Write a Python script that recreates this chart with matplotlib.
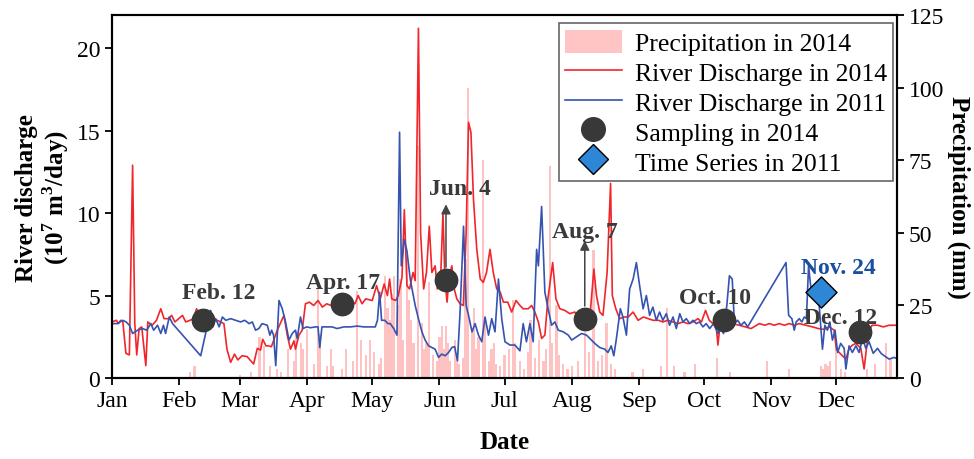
import matplotlib
matplotlib.use('Agg')
import matplotlib.pyplot as plt
from matplotlib.lines import Line2D
from matplotlib.patches import Patch

plt.rcParams['font.family'] = ['Liberation Serif', 'DejaVu Serif']
plt.rcParams['mathtext.fontset'] = 'custom'
plt.rcParams['mathtext.rm'] = 'Liberation Serif'
plt.rcParams['mathtext.bf'] = 'Liberation Serif:bold'

#######################################
# Data (day of year, Jan 1 = 0)
#######################################
# River discharge 2014 (10^7 m3/day)
q14_day = [0, 2, 3, 4, 5, 6.4, 8, 9.5, 10.5, 11.4, 12.5, 13.7, 15.6, 16.5, 18.5, 20.5, 22.5, 24, 26,
           27.5, 29, 32.5, 34, 36, 37.5, 39, 40.5, 42, 45.5, 48.5, 51.6, 53, 54.7, 56.5, 58, 60, 62.3,
           65.3, 67, 68.5, 69.5, 71, 72.2, 73.5, 76.2, 79.3, 80.8, 82.3, 83.9, 84.6, 86.2, 87.7, 89.2,
           91, 93, 95, 97, 99, 101, 103, 105, 108, 110, 112, 113.5, 115.3, 117, 120, 122, 123.7, 125.5,
           127, 128, 129, 130.8, 132, 133.7, 134.8, 136, 137.2, 138.8, 139.8, 141.3, 142.3, 143.7, 145,
           146.3, 147.5, 149, 150, 151.5, 152.6, 153.5, 154.5, 155.5, 156.7, 157.8, 159, 160.5, 162,
           163.3, 164.4, 165.5, 166.7, 168.2, 169.8, 171.2, 172.7, 174.3, 175.8, 177.4, 179, 180.5,
           182.5, 184.3, 186.3, 188.1, 189.6, 191.9, 193.5, 195, 196.6, 198.1, 199.6, 201, 203.2,
           204.7, 206.5, 208.8, 211.1, 213.4, 215, 217, 219, 220.3, 222.2, 223.4, 224.9, 226.4, 228.3,
           229.3, 229.9, 230.7, 232.3, 234.1, 236, 238, 240.3, 242.6, 245, 247.2, 249.5, 252, 254,
           256.3, 258.7, 261, 263.3, 265.6, 267.9, 270.2, 271.8, 273.7, 275.4, 277.1, 278.5, 279.4,
           280.5, 283.2, 286, 289.3, 292, 294.7, 296, 298.5, 301, 303.1, 305.4, 307.7, 310, 312.3,
           314.6, 316.9, 320, 323, 325.7, 328.4, 330.7, 333, 334, 335.3, 336.8, 338.4, 339.9, 341.5,
           343, 345.3, 346.8, 347.9, 349.1, 350.5, 353, 355.7, 358.3, 361.4]
q14 = [3.4, 3.5, 3.3, 3.5, 3.4, 1.5, 1.4, 12.9, 3.3, 1.4, 3.0, 3.1, 0.75, 3.4, 3.2, 3.5, 4.2, 3.6, 3.6,
       3.8, 3.4, 3.8, 3.4, 3.5, 3.6, 4.2, 3.7, 3.6, 3.6, 3.5, 3.3, 1.75, 0.95, 1.45, 1.1, 1.35, 1.3,
       0.85, 1.8, 1.7, 2.35, 1.95, 1.95, 1.9, 2.9, 3.8, 2.6, 1.75, 2.25, 1.75, 2.6, 2.9, 4.5,
       4.6, 4.4, 4.7, 4.3, 4.5, 4.4, 4.6, 4.5, 4.6, 4.7, 4.5, 5.0, 4.5, 4.8, 4.7, 5.6, 4.8, 5.7,
       5.0, 6.0, 4.8, 4.7, 5.0, 6.1, 10.2, 5.6, 5.4, 6.4, 5.9, 21.2, 8.8, 5.4, 6.4,
       9.2, 6.4, 6.8, 5.4, 5.9, 10.0, 6.0, 4.6, 6.2, 6.8, 5.4, 4.8, 4.5, 4.4,
       8.8, 15.5, 14.9, 10.8, 7.8, 6.0, 5.8, 6.4, 7.8, 6.4, 5.4, 5.2, 4.6,
       4.6, 4.0, 4.7, 4.4, 4.2, 4.2, 4.4, 4.0, 3.4, 2.4, 2.6, 4.8, 7.0,
       4.8, 4.2, 4.1, 3.9, 4.0, 3.7, 3.6, 3.5, 3.6, 6.6, 5.0, 4.0, 3.8, 6.4,
       9.8, 11.8, 5.0, 4.2, 3.6, 3.7, 3.7, 4.0, 3.5, 3.7, 3.6, 3.5, 3.5, 3.4,
       3.5, 3.4, 3.3, 3.4, 3.3, 3.4, 3.6, 3.4, 4.1, 3.5, 3.3, 3.3, 2.0,
       3.4, 3.2, 3.3, 3.2, 3.1, 3.0, 3.1, 3.3, 3.2, 3.3, 3.2, 3.3, 3.2, 3.3,
       3.2, 3.3, 3.2, 3.1, 3.0, 2.95, 3.1, 2.9, 1.75, 1.55, 1.35, 1.15, 1.8, 2.0,
       2.1, 1.8, 0.55, 1.8, 2.9, 3.2, 3.2, 3.1, 3.2, 3.2]

# River discharge 2011 (10^7 m3/day)
q11_day = [0, 2.5, 4.9, 6.5, 8, 9.5, 11.8, 14.1, 16, 17.9, 19.2, 21, 22.5, 23.7, 24.7, 26.4, 27.9,
           40.9, 45.5, 46.5, 47.8, 49.4, 50.9, 52.5, 54.7, 57, 59.3, 61.2, 63.2, 64.7, 66.2, 67.7,
           69.2, 71.6, 72.8, 73.6, 74.5, 75.5, 77, 78.5, 80, 81.6, 83.1, 84.6, 85.4, 86.9, 88.1,
           89.7, 91.5, 93.8, 95, 95.8, 96.8, 99.2, 101.5, 103.8, 106.9, 110, 113, 116.1, 118.7,
           121.4, 122.4, 123.4, 124.3, 125.8, 127.2, 128.3, 129.9, 131.4, 132.6, 133.4, 134.8, 136,
           137.5, 139.8, 141.3, 142.9, 144.4, 146, 147.5, 149, 150.6, 152, 153.6, 155.2, 156.7, 158,
           159.3, 160.5, 162.1, 163.3, 164.4, 166, 167.4, 169, 170.5, 172, 173.6, 175.1, 176.6,
           178.2, 179.7, 181.2, 183.5, 185.8, 188.1, 189.6, 191.1, 192.7, 194.2, 195.8, 196.6,
           198.1, 199.6, 201.1, 202.7, 204.2, 205.8, 208.1, 210.4, 212, 214.2, 216.5, 218.8, 220.3,
           222.6, 224.9, 227.2, 228.7, 230.2, 231.4, 232.6, 234.4, 235.6, 237.2, 238.7, 240.3,
           241.8, 243.3, 244.9, 246.4, 247.9, 249.4, 251, 252.5, 254, 255.6, 257.1, 258.7, 260.2,
           261.8, 263.3, 264.8, 266.4, 267.9, 269.4, 270.9, 272.5, 274, 275.6, 277.4, 279.4, 280.6,
           282, 283.5, 284.7, 286, 287, 288.5, 290, 291.6, 293.1, 310.8, 312, 313.5, 314.6, 315.5,
           316.9, 318.1, 319.2, 320.2, 321.2, 322.3, 323.8, 326.1, 327.6, 328.7, 329.9, 331, 332.2,
           333.4, 334.6, 336, 337.6, 338.4, 339.9, 341.4, 343, 344.5, 346.1, 347.6, 349.1, 351, 353,
           354.6, 356.1, 358.3, 360.6, 361.6]
q11 = [3.3, 3.3, 3.5, 3.4, 3.2, 2.7, 2.9, 3.0, 2.9, 3.3, 2.9, 3.2, 2.7, 3.2, 2.7, 3.7, 3.3,
       1.35, 4.1, 3.1, 3.6, 3.1, 3.7, 3.5, 3.6, 3.5, 3.4, 3.5, 3.3, 3.4, 2.9, 3.0,
       3.3, 3.2, 2.6, 2.9, 2.6, 0.75, 4.7, 4.2, 3.4, 2.3, 2.7, 2.9, 2.4, 3.7, 3.0,
       3.1, 3.05, 3.1, 3.1, 1.85, 3.1, 3.1, 3.1, 3.0, 3.1, 3.1, 3.15, 3.1, 3.1,
       3.1, 3.5, 5.2, 3.5, 3.5, 3.3, 3.3, 3.0, 2.6, 14.9, 6.8, 8.4, 7.7,
       6.0, 4.4, 3.6, 2.8, 2.3, 1.95, 1.85, 1.75, 1.25, 1.45, 1.35, 1.55, 1.85, 1.9,
       1.05, 4.0, 9.2, 4.4, 3.8, 2.8, 3.3, 2.6, 2.2, 3.7, 2.6, 3.6, 2.8,
       6.0, 3.6, 2.2, 2.0, 2.0, 1.65, 3.3, 2.2, 3.3, 2.2, 7.8, 6.8,
       10.4, 5.2, 4.2, 3.2, 3.4, 2.9, 2.8, 2.6, 2.3, 2.5, 2.7, 2.6, 2.4,
       2.1, 1.85, 1.75, 1.55, 1.95, 1.35, 2.4, 4.2, 3.7, 2.6, 5.4, 6.0,
       7.0, 5.6, 4.2, 5.0, 3.8, 4.3, 3.5, 4.0, 3.5, 3.9, 3.2, 3.7, 3.0,
       3.9, 3.4, 3.6, 3.3, 3.5, 3.3, 3.4, 3.1, 3.3, 3.0, 3.3, 2.7, 3.0,
       2.7, 4.4, 6.2, 6.0, 3.3, 3.5, 3.2, 3.4, 3.1, 7.0, 3.8, 3.6, 2.9, 3.4,
       3.6, 3.4, 3.7, 3.6, 6.8, 5.4, 4.9, 4.4, 1.75, 3.2, 2.9, 3.4, 2.3,
       2.9, 1.55, 2.1, 1.8, 0.55, 1.95, 1.55, 1.95, 1.55, 2.4, 1.8, 2.2, 1.5, 1.8,
       1.5, 1.35, 1.15, 1.25, 1.2]

# Precipitation 2014 (mm)
p_day = [36, 38, 59, 64, 68, 70, 73, 76, 78, 81, 84, 85, 87, 88, 90, 93, 95, 96, 99, 101, 102, 106,
         108, 111, 113, 115, 117, 119, 121, 123, 124, 126, 127, 128, 129, 130, 132, 133, 134, 136,
         137, 138, 139, 141, 143, 144, 145, 146, 148, 150, 151, 152, 153, 154, 155, 156, 158, 159,
         160, 162, 163, 164, 166, 167, 168, 169, 171, 172, 174, 175, 176, 177, 179, 181, 183, 185,
         186, 188, 190, 192, 193, 195, 197, 199, 200, 202, 203, 205, 206, 208, 210, 212, 215, 218,
         220, 222, 224, 226, 228, 230, 232, 240, 245, 253, 256, 259, 264, 269, 279, 285, 302, 312,
         327, 328, 329, 330, 331, 334, 336, 338, 348, 352, 357, 359]
p_mm = [2, 4, 1, 2, 14, 11, 4, 3, 2, 10, 6, 16, 12, 10, 17, 5, 32, 15, 4, 10, 4, 3,
        10, 6, 30, 13, 8, 13, 9, 5, 7, 35, 24, 20, 29, 35, 25, 34, 13, 42,
        27, 20, 12, 80, 19, 10, 12, 33, 8, 6, 14, 18, 10, 18, 12, 6, 13, 8,
        5, 7, 41, 100, 17, 24, 10, 14, 75, 20, 6, 10, 12, 5, 4, 8, 10, 27,
        12, 6, 3, 9, 20, 7, 13, 6, 10, 73, 12, 25, 8, 5, 3, 4, 6, 16,
        9, 44, 6, 8, 19, 5, 3, 2, 3, 4, 24, 4, 2, 5, 7, 2, 6, 3,
        4, 3, 5, 4, 6, 10, 3, 2, 3, 5, 12, 7]

# Sampling dates 2014 and time series 2011
samp_day = [42, 106, 154, 218, 282, 345]
samp_q = [3.5, 4.5, 5.95, 3.6, 3.5, 2.8]
samp_lbl = ['Feb. 12', 'Apr. 17', 'Jun. 4', 'Aug. 7', 'Oct. 10', 'Dec. 12']
ts_day = [327]
ts_q = [5.2]
ts_lbl = ['Nov. 24']

month_day = [0, 31, 59, 90, 120, 151, 181, 212, 243, 273, 304, 334]
month_lbl = ['Jan', 'Feb', 'Mar', 'Apr', 'May', 'Jun', 'Jul', 'Aug', 'Sep', 'Oct', 'Nov', 'Dec']

#######################################
# Figure
#######################################
fig = plt.figure(figsize=(9.74, 4.6), dpi=100)
ax1 = fig.add_axes([0.115, 0.176, 0.806, 0.789])
ax2 = ax1.twinx()
ax1.set_zorder(ax2.get_zorder() + 1)
ax1.patch.set_visible(False)

# Precipitation bars (right axis)
ax2.bar(p_day, p_mm, width=1.0, color='#ffc2c2', linewidth=0)
ax2.set_ylim(0, 125)
ax2.set_yticks([0, 25, 50, 75, 100, 125])
ax2.set_ylabel('Precipitation (mm)', fontsize=18, fontweight='bold', rotation=270, labelpad=19)

# Discharge lines (left axis)
ax1.plot(q14_day, q14, color='#f0262b', lw=1.2)
ax1.plot(q11_day, q11, color='#3553b0', lw=1.2)

# Sampling points
ax1.scatter(samp_day, samp_q, s=260, color='#383838', zorder=5)
ax1.scatter(ts_day, ts_q, s=250, marker='D', color='#2e86d6', edgecolor='black', linewidth=1.0, zorder=5)

# Date labels
lbl_pos = {'Feb. 12': (49, 5.2), 'Apr. 17': (106.5, 5.8), 'Jun. 4': (160.5, 11.5),
           'Aug. 7': (218, 8.9), 'Oct. 10': (278, 4.9), 'Dec. 12': (336, 3.7)}
for i in range(0, len(samp_lbl)):
    lx, ly = lbl_pos[samp_lbl[i]]
    ax1.text(lx, ly, samp_lbl[i], fontsize=17, fontweight='bold', color='#3a3a3a',
             ha='center', va='center', zorder=6)
ax1.text(335, 6.7, ts_lbl[0], fontsize=17, fontweight='bold', color='#1a4fa0',
         ha='center', va='center', zorder=6)

# Arrows for Jun. 4 and Aug. 7
for d, q, top in [(samp_day[2], samp_q[2], 10.7), (samp_day[3], samp_q[3], 8.5)]:
    ax1.annotate('', xy=(d, top), xytext=(d, q + 0.6),
                 arrowprops=dict(arrowstyle='-|>', color='#444444', lw=1.1, mutation_scale=14), zorder=6)

ax1.set_xlim(0, 362)
ax1.set_ylim(0, 22)
ax1.set_yticks([0, 5, 10, 15, 20])
ax1.set_xticks(month_day)
ax1.set_xticklabels(month_lbl)
ax1.set_xlabel('Date', fontsize=18, fontweight='bold', labelpad=14)
ax1.set_ylabel('River discharge\n(10$^{\\mathbf{7}}$ m$^{\\mathbf{3}}$/day)', fontsize=18,
               fontweight='bold', linespacing=1.1)

for a in [ax1, ax2]:
    a.tick_params(labelsize=17, direction='out', length=5, width=1.3)
    for s in a.spines.values():
        s.set_linewidth(1.5)

# Legend
handles = [Patch(facecolor='#ffc4c4', edgecolor='none'),
           Line2D([], [], color='#f0262b', lw=1.2),
           Line2D([], [], color='#3553b0', lw=1.2),
           Line2D([], [], marker='o', color='#383838', ls='none', markersize=17),
           Line2D([], [], marker='D', color='#2e86d6', markeredgecolor='black', ls='none', markersize=15)]
labels = ['Precipitation in 2014', 'River Discharge in 2014', 'River Discharge in 2011',
          'Sampling in 2014', 'Time Series in 2011']
leg = ax1.legend(handles, labels, loc='upper right', bbox_to_anchor=(0.995, 0.978), fontsize=18.5,
                 frameon=True, fancybox=False, edgecolor='#666666', framealpha=1,
                 labelspacing=0.18, handlelength=2.2, handleheight=1.0, borderpad=0.25,
                 handletextpad=0.5, borderaxespad=0)
leg.get_frame().set_linewidth(1.2)

plt.savefig('out.png', dpi=100)
